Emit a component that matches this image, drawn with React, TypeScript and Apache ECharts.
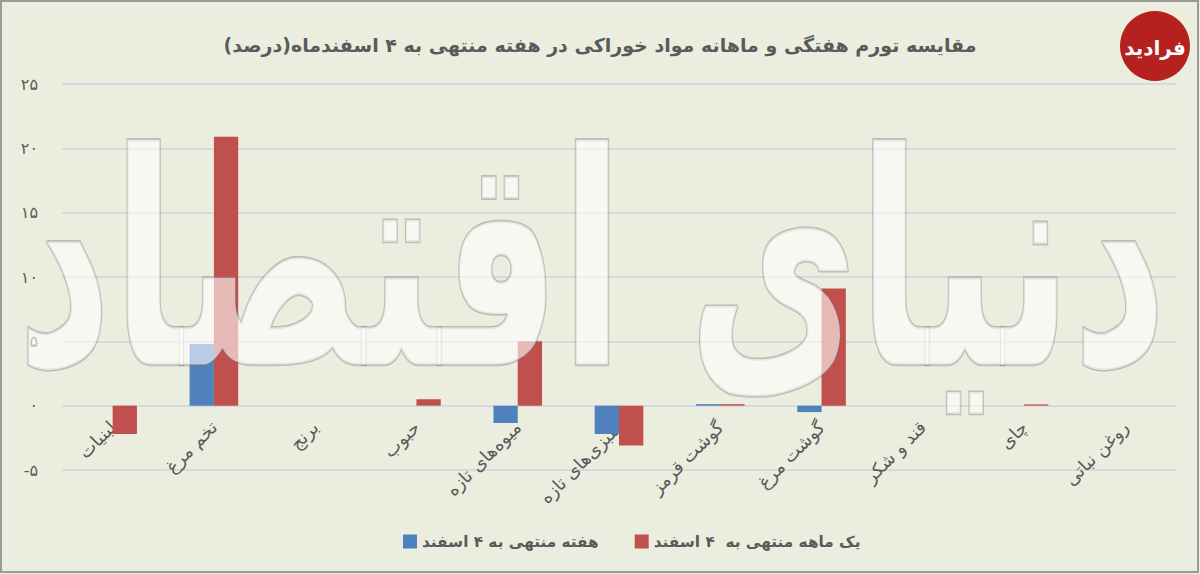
import React, { useEffect, useRef } from "react";
import * as echarts from "echarts";

const categories = [
  "لبنیات",
  "تخم مرغ",
  "برنج",
  "حبوب",
  "میوه‌های تازه",
  "سبزی‌های تازه",
  "گوشت قرمز",
  "گوشت مرغ",
  "قند و شکر",
  "چای",
  "روغن نباتی",
];
const weeklySeriesName = "هفته منتهی به ۴ اسفند";
const monthlySeriesName = "یک ماهه منتهی به  ۴ اسفند";
const weeklyValues = [0, 4.8, 0, 0, -1.35, -2.2, 0.12, -0.5, 0, 0, 0];
const monthlyValues = [-2.2, 20.9, 0, 0.5, 5.0, -3.1, 0.12, 9.1, 0, 0.1, 0];
const yTickValues = [-5, 0, 5, 10, 15, 20, 25];
const yTickLabels = ["-۵", "۰", "۵", "۱۰", "۱۵", "۲۰", "۲۵"];
const titleText = "مقایسه تورم هفتگی و ماهانه مواد خوراکی در هفته منتهی به ۴ اسفندماه(درصد)";
const watermarkText = "دنیای اقتصاد";
const logoText = "فرادید";

const FONT = "'DejaVu Sans', 'Noto Sans', sans-serif";
const GRAY = "#5a5a5a";

export default function App() {
  const ref = useRef<HTMLDivElement>(null);
  useEffect(() => {
    document.body.style.margin = "0";
    const chart = echarts.init(ref.current!, null, { renderer: "svg" });
    chart.setOption({
      animation: false,
      backgroundColor: "#ebeedf",
      textStyle: { fontFamily: FONT },
      title: {
        text: titleText,
        left: "center",
        top: 30,
        textStyle: { fontFamily: FONT, fontSize: 19, fontWeight: "bold", color: GRAY },
      },
      legend: {
        bottom: 20,
        left: 398,
        itemWidth: 14,
        itemHeight: 14,
        itemGap: 36,
        icon: "rect",
        textStyle: { fontFamily: FONT, fontSize: 15.3, fontWeight: "bold", color: GRAY },
        data: [weeklySeriesName, monthlySeriesName],
      },
      grid: { left: 62, right: 24, top: 84, bottom: 104, containLabel: false },
      xAxis: {
        type: "category",
        data: categories,
        axisLine: { show: false, onZero: false },
        axisTick: { show: false },
        axisLabel: {
          interval: 0,
          rotate: 45,
          margin: -46,
          fontFamily: FONT,
          fontSize: 18,
          color: GRAY,
        },
      },
      yAxis: {
        type: "value",
        min: -5,
        max: 25,
        interval: 5,
        axisLine: { show: false },
        axisTick: { show: false },
        axisLabel: {
          margin: 24,
          fontFamily: FONT,
          fontSize: 16,
          color: GRAY,
          formatter: (v: number) => {
            const i = yTickValues.indexOf(v);
            return i >= 0 ? yTickLabels[i] : String(v);
          },
        },
        splitLine: { lineStyle: { color: "#d6d8e2", width: 2 } },
      },
      series: [
        {
          name: weeklySeriesName,
          type: "bar",
          data: weeklyValues,
          itemStyle: { color: "#4f81bd" },
          barGap: "0%",
          barCategoryGap: "52%",
        },
        {
          name: monthlySeriesName,
          type: "bar",
          data: monthlyValues,
          itemStyle: { color: "#c0504d" },
          barGap: "0%",
          barCategoryGap: "52%",
        },
      ],
      graphic: [
        {
          type: "text",
          z: 100,
          x: 592,
          y: 262,
          scaleX: 1.0,
          scaleY: 1.6,
          style: {
            text: watermarkText,
            fontFamily: FONT,
            fontSize: 185,
            fontWeight: "bold",
            fill: "rgba(255,255,255,0.6)",
            stroke: "rgba(120,120,120,0.4)",
            lineWidth: 2,
            align: "center",
            verticalAlign: "middle",
          },
        },
        {
          type: "circle",
          z: 110,
          shape: { cx: 1155, cy: 46, r: 35 },
          style: { fill: "#b5211e" },
        },
        {
          type: "text",
          z: 111,
          x: 1155,
          y: 48,
          style: {
            text: logoText,
            fontFamily: FONT,
            fontSize: 20,
            fontWeight: "bold",
            fill: "#ffffff",
            align: "center",
            verticalAlign: "middle",
          },
        },
        {
          type: "rect",
          z: 120,
          shape: { x: 1, y: 1, width: 1197, height: 571 },
          style: { fill: "none", stroke: "#9a9a9a", lineWidth: 2 },
        },
      ],
    });
    return () => chart.dispose();
  }, []);
  return <div ref={ref} style={{ position: "fixed", left: 0, top: 0, width: 1200, height: 574 }} />;
}
